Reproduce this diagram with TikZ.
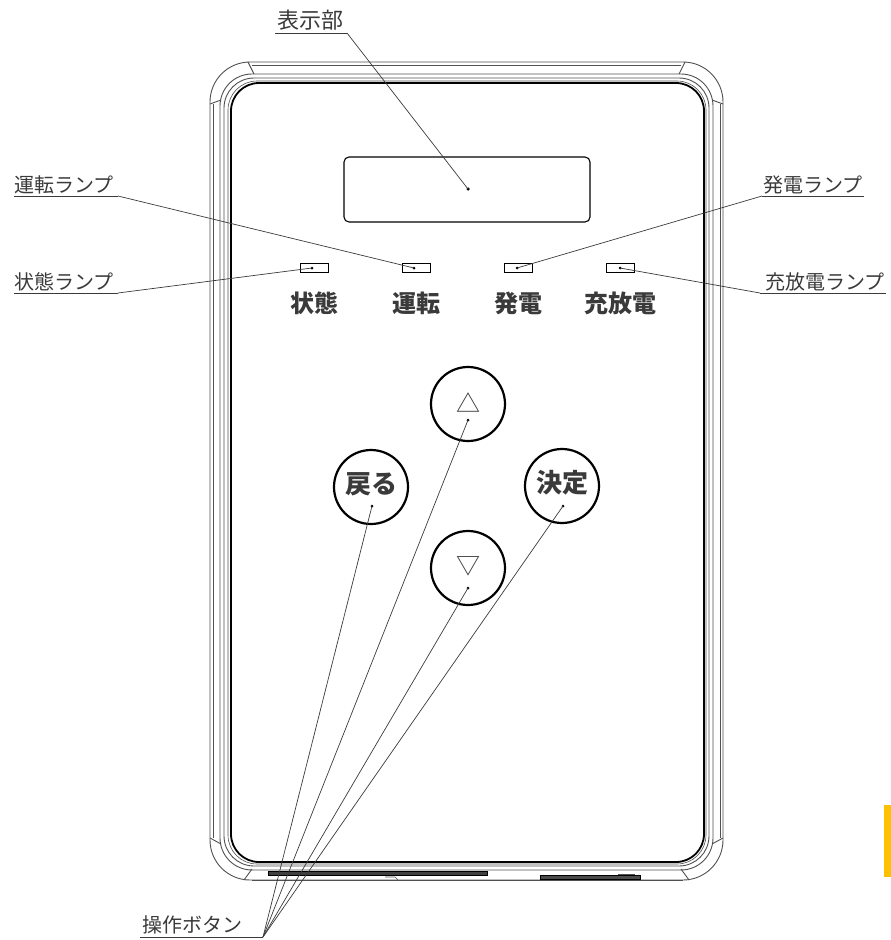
\documentclass[tikz,border=0pt]{standalone}
\usepackage{fontspec}
\newfontfamily\jp{Noto Sans CJK JP}
\definecolor{ink}{HTML}{3A3A3A}
\definecolor{edge}{HTML}{505050}
\definecolor{tab}{HTML}{FFC000}
\tikzset{
  lbl/.style={font=\jp\fontsize{20}{20}\selectfont, text=ink, inner sep=0pt, anchor=center},
  devlbl/.style={font=\jp\bfseries\fontsize{24}{24}\selectfont, text=ink, inner sep=0pt},
  btntxt/.style={font=\jp\bfseries\fontsize{26}{26}\selectfont, text=ink, inner sep=0pt},
  tri/.style={font=\jp\fontsize{24}{24}\selectfont, text=ink, inner sep=0pt},
  btn/.style={circle, draw=black, line width=2.2pt, minimum size=74pt, inner sep=0pt},
  led/.style={rectangle, draw=black, line width=0.9pt, minimum width=28pt, minimum height=9pt, inner sep=0pt},
  leader/.style={draw=ink, line width=0.7pt},
  uline/.style={draw=ink, line width=0.9pt},
  dot/.style={fill=black, circle, inner sep=0pt, minimum size=3.5pt},
  frame/.style={draw=edge, line width=0.9pt},
}
\begin{document}
\begin{tikzpicture}[x=1pt,y=-1pt]
\useasboundingbox (0,0) rectangle (891,940);
% ---------- housing ----------
\draw[frame, rounded corners=40pt] (210,62) -- (723,62) -- (723,880) -- (210,880) -- cycle;
\draw[frame] (213,104) -- (213,838);
\draw[frame] (720,104) -- (720,838);
\draw[frame] (252,65) -- (681,65);
\draw[frame, rounded corners=32pt] (220,74) -- (713,74) -- (713,870) -- (220,870) -- cycle;
\draw[frame, rounded corners=30pt] (224,78) -- (709,78) -- (709,866) -- (224,866) -- cycle;
\draw[frame, line width=0.6pt, rounded corners=29pt] (228,81) -- (706,81) -- (706,864) -- (228,864) -- cycle;
\draw[draw=black, line width=1.8pt, rounded corners=28pt] (231,83) -- (704,83) -- (704,862) -- (231,862) -- cycle;
% corner bumper seams
\draw[frame] (248,62) -- (254,74);
\draw[frame] (210,104) -- (221,100);
\draw[frame] (685,62) -- (679,74);
\draw[frame] (723,104) -- (712,100);
\draw[frame] (210,838) -- (221,844);
\draw[frame] (244,880) -- (252,869);
\draw[frame] (723,838) -- (712,844);
\draw[frame] (689,880) -- (681,869);
% bottom details
\draw[fill=black!75, draw=black] (268,871) rectangle (487,875);
\draw[fill=black!70, draw=black] (540,875) rectangle (640,879);
\draw[frame] (252,880) -- (683,880);
\draw[frame, line width=0.6pt] (385,877) -- (395,877) -- (398,880);
\draw[frame, line width=0.6pt] (618,874) -- (635,874);
% ---------- display ----------
\draw[draw=black, line width=1.1pt, rounded corners=5pt] (344,157) rectangle (590,222);
\coordinate (dispdot) at (468,189);
\node[dot] at (dispdot) {};
% ---------- LEDs ----------
\node[led] (ledA) at (314,268) {};
\node[led] (ledB) at (416,268) {};
\node[led] (ledC) at (518,268) {};
\node[led] (ledD) at (620,268) {};
\foreach \n/\x in {A/312, B/414, C/517, D/620}{
  \coordinate (dot\n) at (\x,268);
  \node[dot, minimum size=3pt] at (dot\n) {};
}
\node[devlbl] (tA) at (314,303) {状態};
\node[devlbl] (tB) at (416,303) {運転};
\node[devlbl] (tC) at (518,303) {発電};
\node[devlbl] (tD) at (620,303) {充放電};
% ---------- buttons ----------
\node[btn] (bUp) at (468,404) {};
\node[tri] (tUp) at (468,403) {△};
\node[btn] (bBack) at (371,487) {};
\node[btntxt] (tBack) at (371,484) {戻る};
\node[btn] (bOk) at (562,486) {};
\node[btntxt] (tOk) at (562,483) {決定};
\node[btn] (bDown) at (468,568) {};
\node[tri] (tDown) at (468,566) {▽};
\coordinate (pUp) at (468,420);
\coordinate (pBack) at (372,506);
\coordinate (pOk) at (563,506);
\coordinate (pDown) at (468,588);
\foreach \p in {pUp,pBack,pOk,pDown}{\node[dot, minimum size=3pt] at (\p) {};}
% ---------- labels ----------
\node[lbl, font=\jp\fontsize{22}{22}\selectfont] (lDisp) at (310,20) {表示部};
\coordinate (uDispL) at (275,33); \coordinate (uDispR) at (347,33);
\draw[uline] (uDispL) -- (uDispR);
\draw[leader] (uDispR) -- (dispdot);

\node[lbl] (lUnten) at (64,185) {運転ランプ};
\coordinate (uUL) at (14,196); \coordinate (uUR) at (118,196);
\draw[uline] (uUL) -- (uUR);
\draw[leader] (uUR) -- (dotB);

\node[lbl] (lJotai) at (64,282) {状態ランプ};
\coordinate (uJL) at (14,293); \coordinate (uJR) at (118,293);
\draw[uline] (uJL) -- (uJR);
\draw[leader] (uJR) -- (dotA);

\node[lbl] (lHatsu) at (813,185) {発電ランプ};
\coordinate (uHL) at (762,196); \coordinate (uHR) at (864,196);
\draw[uline] (uHL) -- (uHR);
\draw[leader] (uHL) -- (dotC);

\node[lbl] (lJuho) at (825,282) {充放電ランプ};
\coordinate (uCL) at (760,293); \coordinate (uCR) at (886,293);
\draw[uline] (uCL) -- (uCR);
\draw[leader] (uCL) -- (dotD);

\node[lbl] (lSosa) at (192,925) {操作ボタン};
\coordinate (uSL) at (140,937); \coordinate (uSR) at (263,937);
\draw[uline] (uSL) -- (uSR);
\foreach \p in {pUp,pBack,pOk,pDown}{\draw[leader] (uSR) -- (\p);}
% ---------- side tab ----------
\fill[tab] (884,805) rectangle (891,877);
\end{tikzpicture}
\end{document}
